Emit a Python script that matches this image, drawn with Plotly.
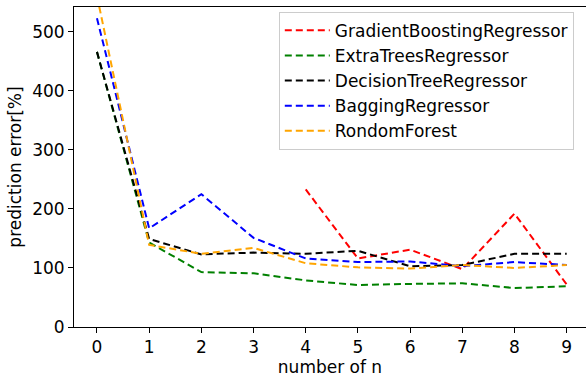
import plotly.graph_objects as go

n = list(range(10))
gbr_x = [4, 5, 6, 7, 8, 9]
gbr = [233, 116, 131, 98, 192, 72]
etr = [466, 143, 93, 91, 79, 71, 73, 74, 66, 69]
dtr = [466, 149, 123, 126, 124, 129, 103, 105, 124, 124]
bag = [523, 167, 225, 151, 116, 110, 111, 103, 110, 105]
rf = [561, 139, 124, 134, 108, 101, 99, 105, 100, 105]

series = [
    ("GradientBoostingRegressor", gbr_x, gbr, "red"),
    ("ExtraTreesRegressor", n, etr, "green"),
    ("DecisionTreeRegressor", n, dtr, "black"),
    ("BaggingRegressor", n, bag, "blue"),
    ("RondomForest", n, rf, "orange"),
]

fig = go.Figure()
for name, xs, ys, c in series:
    fig.add_trace(go.Scatter(x=xs, y=ys, mode="lines", name=name,
                             line=dict(color=c, width=2, dash="7px,4px")))

font = dict(family="DejaVu Sans", size=17, color="black")
fig.update_layout(
    width=586, height=378,
    margin=dict(l=74, r=0, t=7, b=51),
    plot_bgcolor="white", paper_bgcolor="white",
    font=font,
    showlegend=True,
    legend=dict(x=0.40, y=0.985, xanchor="left", yanchor="top",
                bordercolor="#cccccc", borderwidth=1, bgcolor="rgba(255,255,255,0.8)",
                font=font, tracegroupgap=0, itemwidth=45),
    xaxis=dict(range=[-0.44, 9.37], tickmode="array", tickvals=n,
               ticktext=[str(v) for v in n], showgrid=False, zeroline=False,
               showline=True, linecolor="black", linewidth=1, mirror=True,
               ticks="outside", ticklen=5, tickcolor="black",
               title=dict(text="number of n", font=font, standoff=4)),
    yaxis=dict(range=[0, 542], tickvals=[0, 100, 200, 300, 400, 500],
               showgrid=False, zeroline=False, showline=True, linecolor="black",
               linewidth=1, ticks="outside", ticklen=5, tickcolor="black",
               title=dict(text="prediction error[%]", font=font, standoff=6)),
)
fig.write_html("out.html")
